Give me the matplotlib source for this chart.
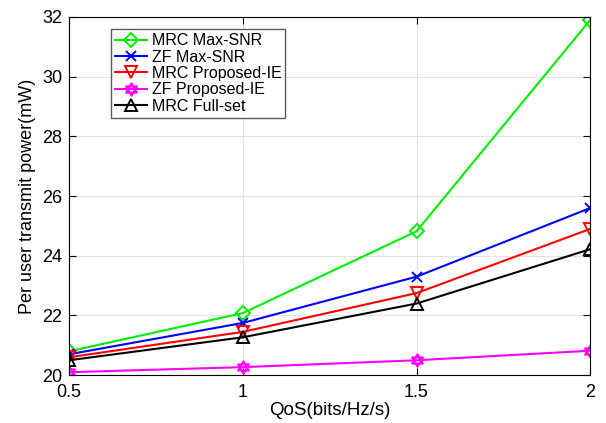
import numpy as np
import matplotlib
matplotlib.use("Agg")
import matplotlib.pyplot as plt
from matplotlib.path import Path

qos = [0.5, 1.0, 1.5, 2.0]
mrc_max_snr = [20.8, 22.08, 24.82, 31.9]
zf_max_snr = [20.7, 21.75, 23.3, 25.6]
mrc_proposed = [20.6, 21.45, 22.75, 24.9]
zf_proposed = [20.1, 20.27, 20.5, 20.82]
mrc_full = [20.5, 21.27, 22.4, 24.22]

labels = ["MRC Max-SNR", "ZF Max-SNR", "MRC Proposed-IE", "ZF Proposed-IE", "MRC Full-set"]

# six-pointed star made of two triangles
tri_up = [(0, 1), (-0.866, -0.5), (0.866, -0.5), (0, 1)]
tri_dn = [(0, -1), (0.866, 0.5), (-0.866, 0.5), (0, -1)]
hexagram = Path(tri_up + tri_dn,
                [Path.MOVETO, Path.LINETO, Path.LINETO, Path.CLOSEPOLY] * 2)

plt.rcParams['font.family'] = ['Liberation Sans', 'DejaVu Sans']

fig = plt.figure(figsize=(6.06, 4.23), dpi=100)
ax = fig.add_axes([0.114, 0.113, 0.86, 0.847])

series = [
    (mrc_max_snr, '#00ee00', 'D', 7),
    (zf_max_snr, '#0000ff', 'x', 7),
    (mrc_proposed, '#ff0000', 'v', 9),
    (zf_proposed, '#ff00ff', hexagram, 9),
    (mrc_full, '#000000', '^', 9),
]
for (vals, col, mk, ms), lab in zip(series, labels):
    ax.plot(qos, vals, color=col, marker=mk, markersize=ms, markerfacecolor='none',
            markeredgecolor=col, markeredgewidth=1.4, linewidth=1.5, label=lab)

ax.set_xlim(0.5, 2)
ax.set_ylim(20, 32)
ax.set_xticks([0.5, 1, 1.5, 2])
ax.set_xticklabels(['0.5', '1', '1.5', '2'])
ax.set_yticks(np.arange(20, 33, 2))
ax.tick_params(direction='in', labelsize=13, top=True, right=True, length=5)
ax.tick_params(axis='x', pad=6)
ax.tick_params(axis='y', pad=5)
ax.grid(True, color='#e3e3e3', linewidth=0.8)
ax.set_axisbelow(True)
ax.set_xlabel('QoS(bits/Hz/s)', fontsize=13.5, labelpad=1)
ax.set_ylabel('Per user transmit power(mW)', fontsize=13, labelpad=4)

leg = ax.legend(loc='upper left', bbox_to_anchor=(0.08, 0.965), fontsize=11.5,
                frameon=True, fancybox=False, edgecolor='#333333',
                handlelength=2.0, handletextpad=0.3, borderpad=0.25, labelspacing=0.08,
                borderaxespad=0)
leg.get_frame().set_linewidth(1.0)

fig.savefig('out.png', dpi=100)
